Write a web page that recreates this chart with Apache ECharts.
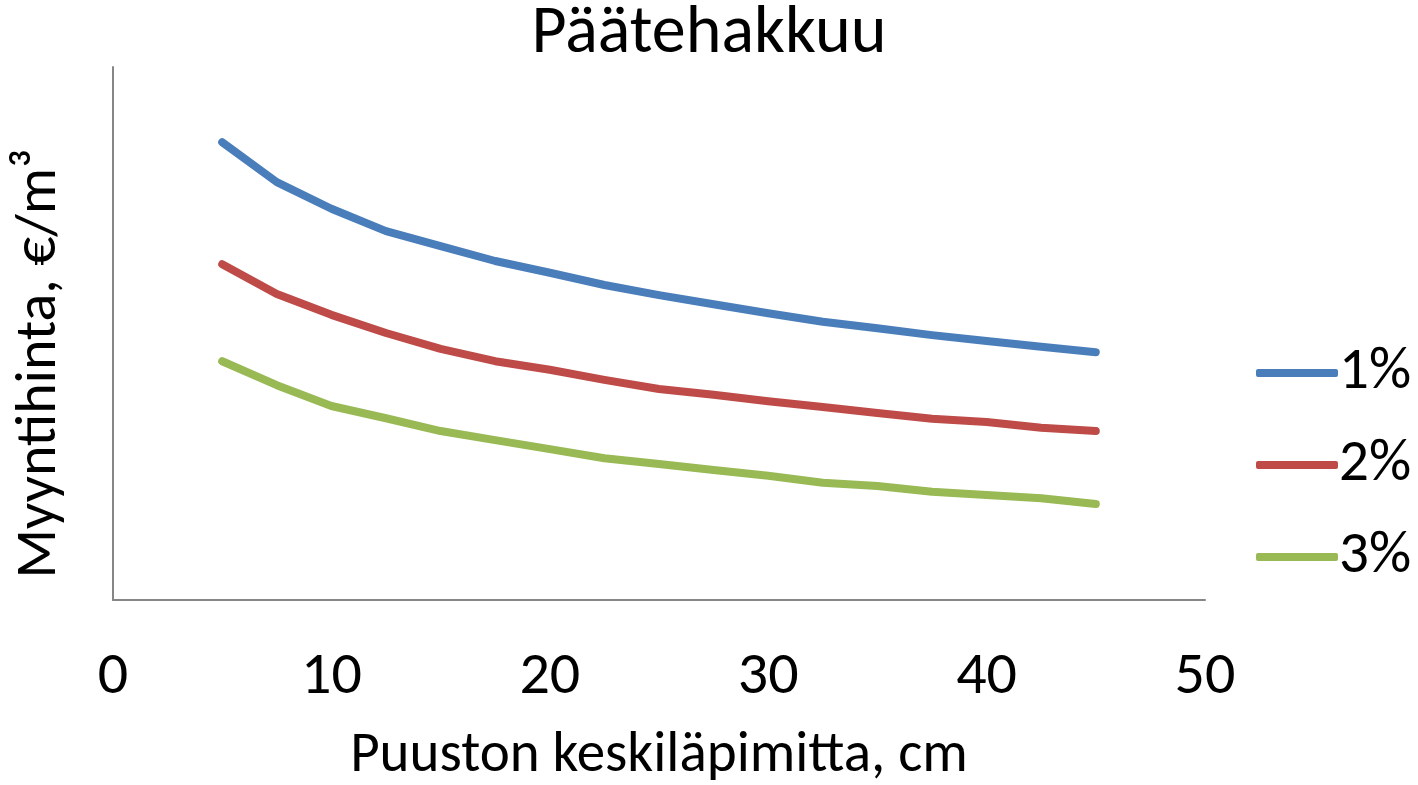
<!DOCTYPE html>
<html><head><meta charset="utf-8">
<script src="https://cdn.jsdelivr.net/npm/echarts@6/dist/echarts.min.js"></script>
<style>html,body{margin:0;padding:0;background:#fff}#c{width:1418px;height:785px}</style>
</head><body><div id="c"></div>
<script>
const diameters = [5, 7.5, 10, 12.5, 15, 17.5, 20, 22.5, 25, 27.5, 30, 32.5, 35, 37.5, 40, 42.5, 45];
const seriesNames = ['1%', '2%', '3%'];
const rate1 = [85.9, 78.4, 73.4, 69.2, 66.4, 63.6, 61.4, 59.1, 57.2, 55.5, 53.8, 52.2, 51.0, 49.7, 48.6, 47.5, 46.5];
const rate2 = [63.0, 57.4, 53.5, 50.1, 47.1, 44.8, 43.2, 41.3, 39.6, 38.5, 37.3, 36.2, 35.1, 34.0, 33.4, 32.3, 31.7];
const rate3 = [44.8, 40.3, 36.4, 34.1, 31.7, 30.0, 28.3, 26.6, 25.5, 24.4, 23.3, 22.0, 21.4, 20.3, 19.7, 19.1, 18.0];
const xTicks = [0, 10, 20, 30, 40, 50];
const colors = ['#4a7ebb', '#be4b48', '#98b954'];
const font = 'Carlito, "Liberation Sans Narrow", "Open Sans", sans-serif';

const allVals = [rate1, rate2, rate3];
const chart = echarts.init(document.getElementById('c'), null, {renderer: 'canvas'});
chart.setOption({
  animation: false,
  backgroundColor: '#fff',
  title: {text: 'Päätehakkuu', left: 'center', top: -4,
    textStyle: {fontFamily: font, fontSize: 68, fontWeight: 'normal', color: '#000'}},
  grid: {left: 113, right: 213, top: 67, bottom: 185, outerBoundsMode: 'none', containLabel: false},
  legend: {
    orient: 'vertical', left: 1251, top: 338,
    itemWidth: 82, itemHeight: 8, itemGap: 32,
    icon: 'roundRect',
    textStyle: {fontFamily: font, fontSize: 59, color: '#000', lineHeight: 60, padding: [0,0,0,-4]},
    data: seriesNames
  },
  xAxis: {
    type: 'value', min: xTicks[0], max: xTicks[xTicks.length-1], interval: 10,
    name: 'Puuston keskiläpimitta, cm', nameLocation: 'middle', nameGap: 128,
    nameTextStyle: {fontFamily: font, fontSize: 57, color: '#000'},
    axisLine: {show: true, lineStyle: {color: '#868686', width: 2}},
    axisTick: {show: false},
    splitLine: {show: false},
    axisLabel: {fontFamily: font, fontSize: 60, color: '#000', margin: 48}
  },
  yAxis: {
    type: 'value', min: 0, max: 100,
    name: 'Myyntihinta, €/m³', nameLocation: 'middle', nameGap: 44,
    nameTextStyle: {fontFamily: font, fontSize: 58, color: '#000', padding: [0, 60, 0, 0]},
    axisLine: {show: true, lineStyle: {color: '#868686', width: 2}},
    axisTick: {show: false},
    splitLine: {show: false},
    axisLabel: {show: false}
  },
  series: seriesNames.map((n, i) => ({
    name: n, type: 'line', symbol: 'none',
    data: diameters.map((d, j) => [d, allVals[i][j]]),
    lineStyle: {color: colors[i], width: 8, cap: 'round', join: 'round'},
    itemStyle: {color: colors[i]}
  }))
});
</script></body></html>
